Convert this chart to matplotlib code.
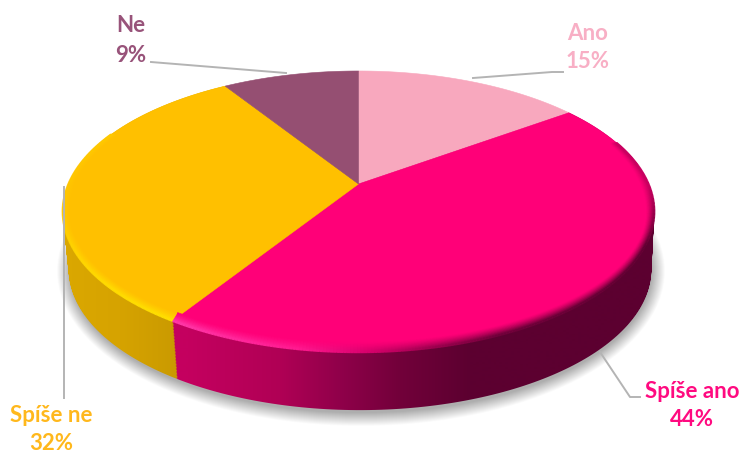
import numpy as np
import matplotlib
matplotlib.use("Agg")
import matplotlib.pyplot as plt
from matplotlib.collections import LineCollection
from matplotlib.colors import to_rgb
from matplotlib.patches import Ellipse, PathPatch
from matplotlib.path import Path

categories = ["Ano", "Spíše ano", "Spíše ne", "Ne"]
shares = [15, 44, 32, 9]
face_colors = ["#F8A8BE", "#FF0078", "#FFC000", "#954F72"]
label_colors = ["#F8AFC5", "#FF0A80", "#FFB81C", "#98537A"]

# perspective of the disc: apex, near/far edge
CX, APEX_Y = 358.5, 184
K, C, A = 290, 0.196, -99.1
DEPTH = 58

plt.rcParams["font.family"] = ["Lato", "DejaVu Sans"]


def project(theta):
    u, v = np.sin(theta), np.cos(theta)
    d = 1 + C * v
    return CX + K * u / d, (A * v + APEX_Y) / d


def level(x, y, f):
    # same outline pushed down by a fraction f of the wall height
    return CX + f * 1.5 + (x - CX) * (1 - 0.015 * f), y + DEPTH * f


def gradient_wall(ax, t0, t1, xs, cols):
    th = np.linspace(t0, t1, 160)
    x, y = project(th)
    verts, codes = [], []
    # stack of sectors so the silhouette runs straight down from the widest point
    for f in np.linspace(0, 1, 40):
        lx, ly = level(x, y, f)
        ax0, ay0 = level(np.array([CX]), np.array([APEX_Y]), f)
        verts += [(ax0[0], ay0[0])] + list(zip(lx, ly)) + [(ax0[0], ay0[0])]
        codes += [Path.MOVETO] + [Path.LINETO] * len(lx) + [Path.CLOSEPOLY]
    rgb = np.array([to_rgb(c) for c in cols])
    grid = np.arange(0, 745)
    img = np.stack([np.interp(grid, xs, rgb[:, i]) for i in range(3)], axis=-1)[None, :, :]
    im = ax.imshow(img, extent=(0, 744, 453, 0), aspect="auto", zorder=3, interpolation="bilinear")
    patch = PathPatch(Path(verts, codes), transform=ax.transData, fc="none", ec="none")
    ax.add_patch(patch)
    im.set_clip_path(patch)


def rim(ax, t0, t1, face, xs, cols):
    # soft bevel along the near edge of the top surface
    th = np.linspace(t0, t1, 260)
    x, y = project(th)
    fade = np.clip((y - 185) / 60, 0, 1)
    rgb = np.array([to_rgb(c) for c in cols])
    edge = np.stack([np.interp(x, xs, rgb[:, i]) for i in range(3)], axis=-1)
    base = np.array(to_rgb(face))
    for s in np.linspace(1, 0, 14):
        xx = 360 + (x - 360) * (1 - s * 0.025)
        yy = 212 + (y - 212) * (1 - s * 0.07 * fade)
        pts = np.column_stack([xx, yy])
        segs = np.stack([pts[:-1], pts[1:]], axis=1)
        blend = (1 - s) ** 1.3 * (0.35 + 0.65 * fade[:-1])
        col = base * (1 - blend[:, None]) + edge[:-1] * blend[:, None]
        ax.add_collection(LineCollection(segs, colors=col, linewidths=1.6, zorder=5, capstyle="butt"))


fig = plt.figure(figsize=(7.44, 4.53), dpi=100)
ax = fig.add_axes([0, 0, 1, 1])
ax.set_xlim(0, 744)
ax.set_ylim(453, 0)
ax.axis("off")

# ground shadow
for grow in np.linspace(26, 0, 27):
    ax.add_patch(Ellipse((361, 271), 2 * 291 + grow, 2 * 142 + grow, fc="#000000", ec="none",
                         alpha=0.012, zorder=1))

cuts = np.cumsum([0] + shares) / 100 * 2 * np.pi

# orange first, the magenta wall overlaps its swept edge
gradient_wall(ax, cuts[2], cuts[3],
              [60, 120, 190],
              ["#DBA800", "#D6A300", "#C79800"])
gradient_wall(ax, cuts[1], cuts[2],
              [188, 280, 340, 400, 470, 700],
              ["#C4005F", "#B00055", "#90004A", "#72003A", "#5C0030", "#5C0030"])

# top surface
for i, col in enumerate(face_colors):
    th = np.linspace(cuts[i], cuts[i + 1], 120)
    x, y = project(th)
    ax.fill(np.r_[CX, x], np.r_[APEX_Y, y], color=col, lw=0.4, zorder=4)

rim(ax, cuts[1] + 0.3, cuts[2], face_colors[1],
    [170, 300, 370, 430, 500, 700],
    ["#FF38A8", "#FF1A90", "#D8006C", "#A00050", "#70003A", "#5C0030"])
rim(ax, cuts[2], cuts[3] - 0.6, face_colors[2],
    [60, 110, 190],
    ["#FFD000", "#FFDC00", "#FFE000"])

# leader lines
leaders = [
    ([473, 552, 563], [78, 72, 72]),
    ([600, 630, 640], [352, 397, 397]),
    ([63.5, 63.5], [187, 398]),
    ([151, 286], [62, 73]),
]
for lx, ly in leaders:
    ax.plot(lx, ly, color="#B4B4B4", lw=1.4, zorder=6, solid_joinstyle="round")

# data labels
label_pos = [(588, 34, 62), (692, 391, 420), (51, 415, 444), (131, 26, 55)]
for name, share, col, (tx, y1, y2) in zip(categories, shares, label_colors, label_pos):
    ax.text(tx, y1, name, color=col, fontsize=16, fontweight="bold", ha="center", va="center", zorder=7)
    ax.text(tx, y2, f"{share}%", color=col, fontsize=16, fontweight="bold", ha="center", va="center", zorder=7)

fig.savefig("out.png", dpi=100, facecolor="white")
